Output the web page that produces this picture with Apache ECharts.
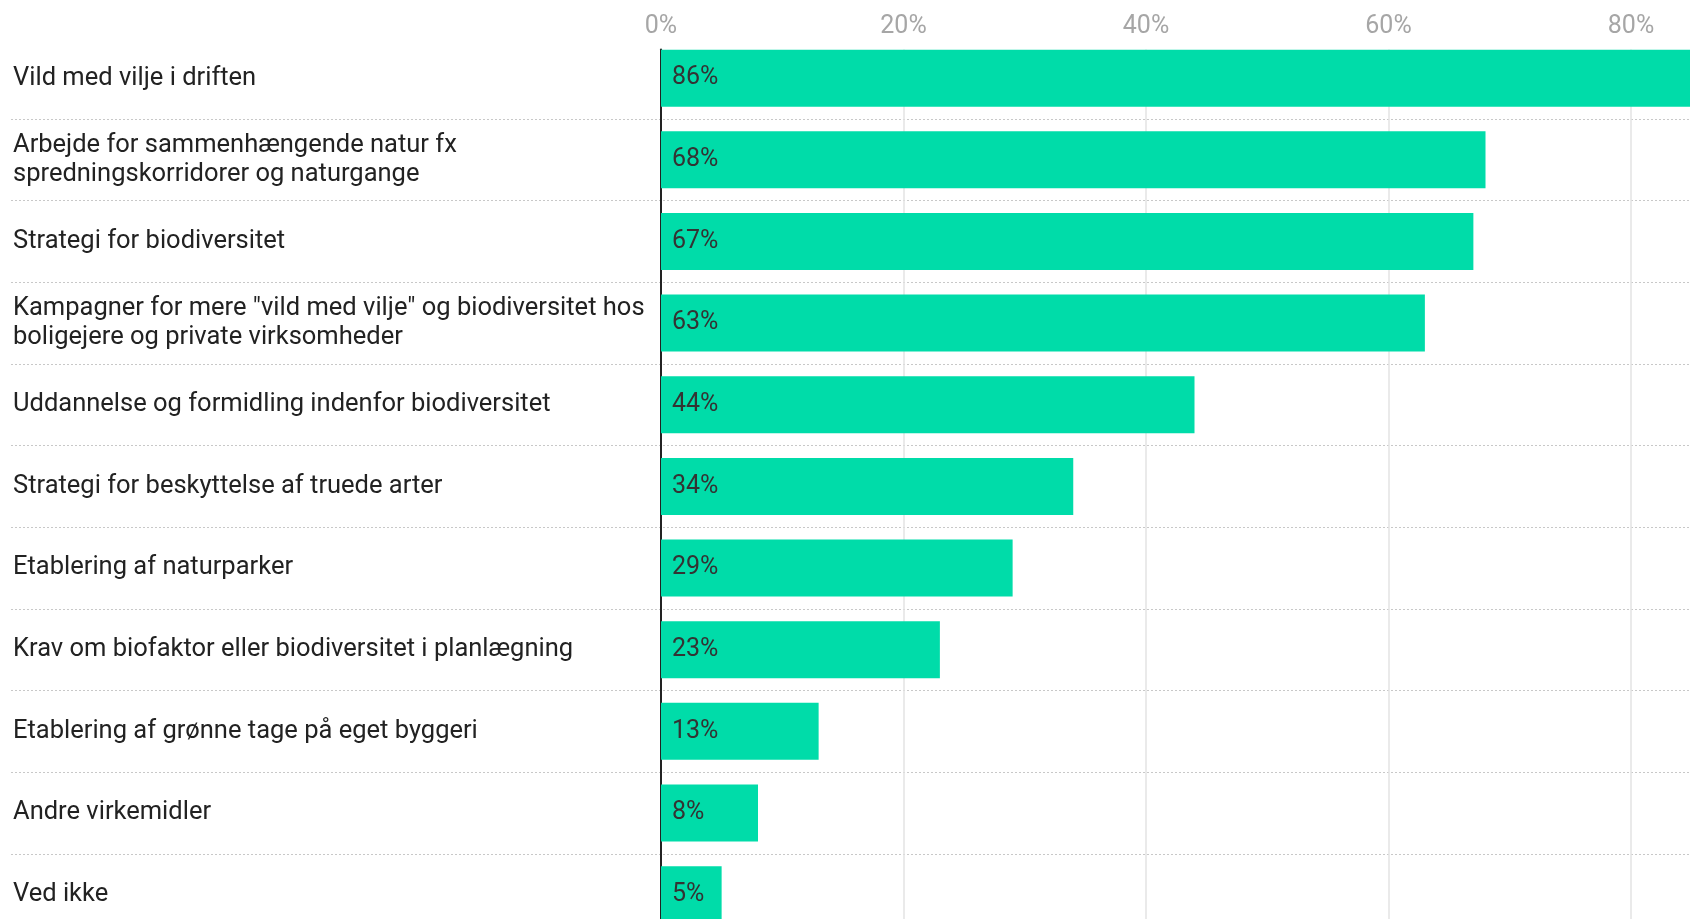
<!DOCTYPE html>
<html>
<head>
<meta charset="utf-8">
<title>Virkemidler for biodiversitet</title>
<script src="https://cdn.jsdelivr.net/npm/echarts@6/dist/echarts.min.js"></script>
<style>
  html, body { margin: 0; padding: 0; background: #fff; }
  #chart { width: 1690px; height: 919px; }
</style>
</head>
<body>
<div id="chart"></div>
<script>
// svar-kategorier, oppefra og ned
const categories = [
  'Vild med vilje i driften',
  'Arbejde for sammenhængende natur fx\nspredningskorridorer og naturgange',
  'Strategi for biodiversitet',
  'Kampagner for mere "vild med vilje" og biodiversitet hos\nboligejere og private virksomheder',
  'Uddannelse og formidling indenfor biodiversitet',
  'Strategi for beskyttelse af truede arter',
  'Etablering af naturparker',
  'Krav om biofaktor eller biodiversitet i planlægning',
  'Etablering af grønne tage på eget byggeri',
  'Andre virkemidler',
  'Ved ikke'
]
const values = [86, 68, 67, 63, 44, 34, 29, 23, 13, 8, 5]
const tickValues = [0, 20, 40, 60, 80]

const FONT = 'Roboto'
const GREEN = '#00dca9'

// grids: 0 = dotted row separators, 1 = bars + labels, 2 = value axis / gridlines
// the chart is cropped: rows and the 0-100% axis run past the canvas edges
const rowTop = 37.3
const rowHeight = 898.2
const plotLeft = 661
const plotWidth = 1212.5

const chart = echarts.init(document.getElementById('chart'))
chart.setOption({
  animation: false,
  textStyle: { fontFamily: FONT },
  grid: [
    { left: 11, width: 1679, top: rowTop, height: rowHeight, outerBoundsMode: 'none' },
    { left: plotLeft, width: plotWidth, top: rowTop, height: rowHeight, outerBoundsMode: 'none' },
    {
      left: plotLeft,
      width: plotWidth,
      top: 49.6,
      height: rowTop + rowHeight - 49.6,
      outerBoundsMode: 'none'
    }
  ],
  xAxis: [
    { gridIndex: 0, type: 'value', show: false },
    { gridIndex: 1, type: 'value', min: 0, max: 100, show: false },
    {
      gridIndex: 2,
      type: 'value',
      position: 'top',
      min: 0,
      max: 100,
      interval: 20,
      axisLine: { show: false },
      axisTick: { show: false },
      axisLabel: {
        margin: 10,
        fontSize: 25,
        color: '#a6a6a6',
        fontFamily: FONT,
        formatter(v) {
          return tickValues.indexOf(v) > -1 ? v + '%' : ''
        }
      },
      splitLine: {
        show: true,
        lineStyle: { color: '#e3e3e3', width: 1.5 }
      }
    }
  ],
  yAxis: [
    {
      gridIndex: 0,
      type: 'category',
      inverse: true,
      data: categories,
      axisLine: { show: false },
      axisTick: { show: false },
      axisLabel: { show: false },
      splitLine: {
        show: true,
        showMinLine: false,
        lineStyle: { color: '#c8c8c8', type: [2, 2], width: 1 }
      }
    },
    {
      gridIndex: 1,
      type: 'category',
      inverse: true,
      data: categories,
      axisLine: { show: false },
      axisTick: { show: false },
      axisLabel: {
        align: 'left',
        margin: plotLeft - 13,
        fontSize: 25.5,
        lineHeight: 29,
        color: '#222',
        fontFamily: FONT
      }
    },
    {
      gridIndex: 2,
      type: 'value',
      show: true,
      axisLine: { show: true, lineStyle: { color: '#222', width: 2 } },
      axisTick: { show: false },
      axisLabel: { show: false },
      splitLine: { show: false }
    }
  ],
  series: [
    {
      type: 'bar',
      xAxisIndex: 1,
      yAxisIndex: 1,
      data: values,
      barWidth: 57,
      z: 3,
      itemStyle: { color: GREEN },
      label: {
        show: true,
        position: 'insideLeft',
        distance: 11,
        fontSize: 25,
        color: '#333',
        fontFamily: FONT,
        formatter: '{c}%'
      }
    }
  ]
})
</script>
</body>
</html>
